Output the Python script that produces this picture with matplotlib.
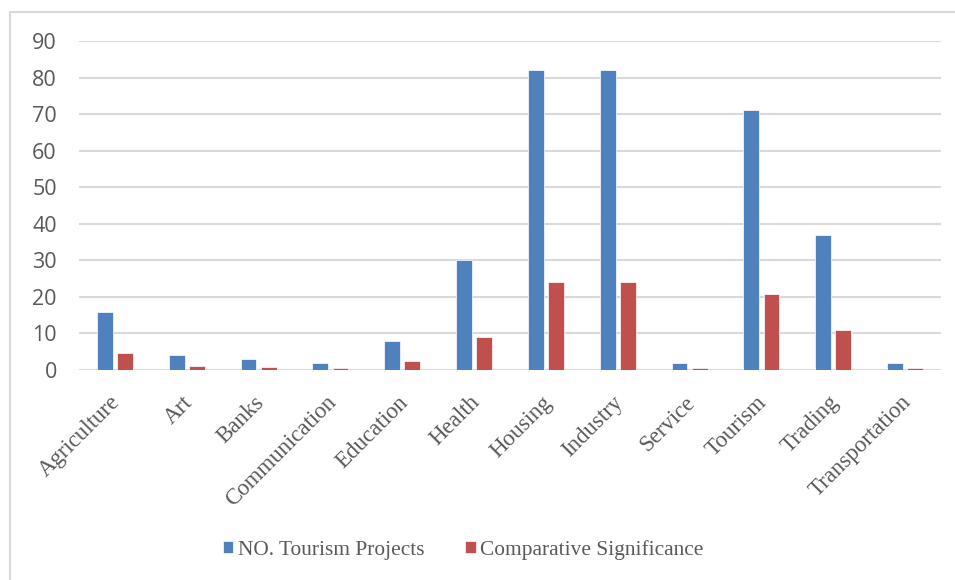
import matplotlib
matplotlib.use("Agg")
import matplotlib.pyplot as plt
from matplotlib.patches import Rectangle
from matplotlib.transforms import ScaledTranslation
import numpy as np

# data
categories = ["Agriculture", "Art", "Banks", "Communication", "Education", "Health",
              "Housing", "Industry", "Service", "Tourism", "Trading", "Transportation"]
projects = [16, 4, 3, 2, 8, 30, 82, 82, 2, 71, 37, 2]
significance = [4.7, 1.2, 0.9, 0.6, 2.4, 8.9, 24.2, 24.2, 0.6, 20.9, 10.9, 0.6]
yticks = list(range(0, 100, 10))

blue = "#4F81BD"
red = "#C0504D"
grid_col = "#D9D9D9"
txt_col = "#595959"

fig = plt.figure(figsize=(9.55, 5.8), dpi=100)
fig.patch.set_facecolor("white")

# chart area border
fig.patches.append(Rectangle((10 / 955, -0.05), 1.2, 1 - 12 / 580 + 0.05,
                             transform=fig.transFigure, fill=False,
                             edgecolor=grid_col, linewidth=1.5))

ax = fig.add_axes([79 / 955, 1 - 370 / 580, 862 / 955, 329 / 580])
x = np.arange(len(categories))
w = 0.22
ax.bar(x - 0.14, projects, width=w, color=blue, edgecolor="white", linewidth=0.5,
       label="NO. Tourism Projects", zorder=3)
ax.bar(x + 0.14, significance, width=w, color=red, edgecolor="white", linewidth=0.5,
       label="Comparative Significance", zorder=3)

ax.set_xlim(-0.5, len(categories) - 0.5)
ax.set_ylim(0, 90)
ax.set_yticks(yticks)
ax.yaxis.grid(True, color=grid_col, linewidth=1.5, zorder=0)
for s in ax.spines.values():
    s.set_visible(False)
ax.tick_params(axis="both", length=0)
ax.tick_params(axis="y", pad=16, labelsize=15.5, labelcolor=txt_col)
for lab in ax.get_yticklabels():
    lab.set_fontfamily("Open Sans")

ax.set_xticks(x)
ax.set_xticklabels(categories, rotation=45, ha="right", rotation_mode="anchor",
                   fontfamily="Liberation Serif", fontsize=16.5, color=txt_col)
ax.tick_params(axis="x", pad=10)
shift = ScaledTranslation(-5 / 100, -8 / 100, fig.dpi_scale_trans)
for lab in ax.get_xticklabels():
    lab.set_transform(lab.get_transform() + shift)

leg = fig.legend(loc="center", bbox_to_anchor=(463 / 955, 1 - 550 / 580), ncol=2,
                 frameon=False, handlelength=0.5, handleheight=0.5,
                 handletextpad=0.2, columnspacing=1.9,
                 prop={"family": "Liberation Serif", "size": 15.4})
for t in leg.get_texts():
    t.set_color(txt_col)

fig.savefig("out.png", dpi=100)
